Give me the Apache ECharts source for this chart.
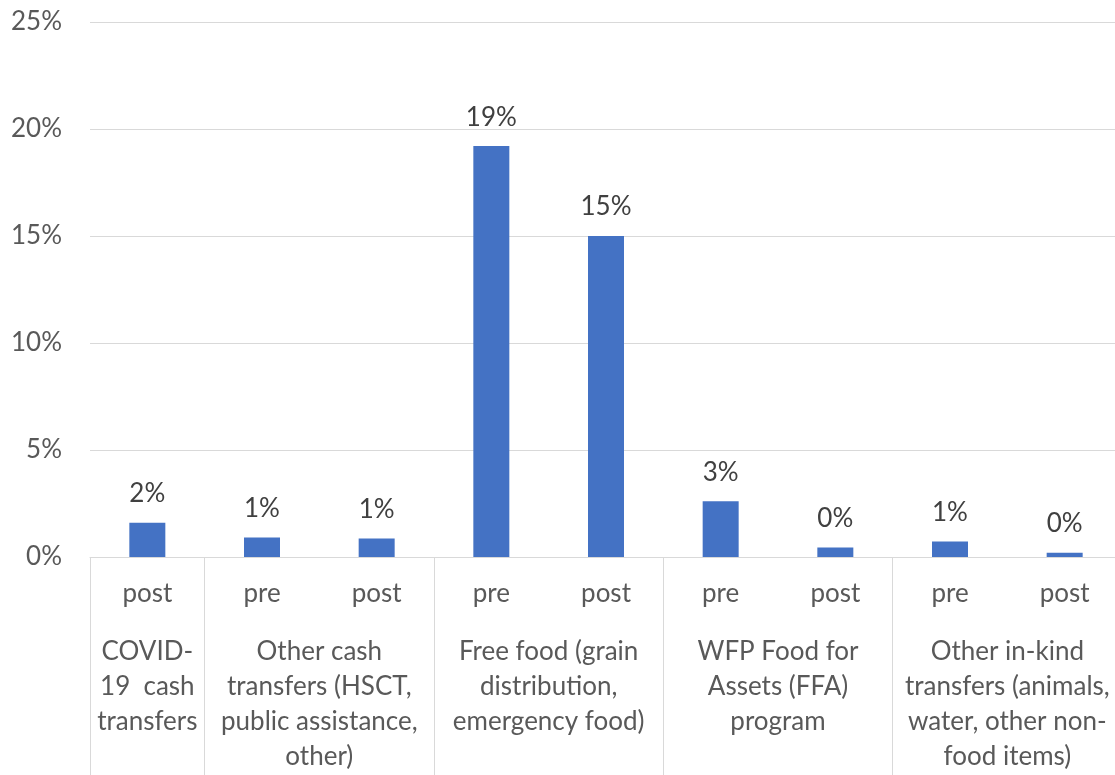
<!DOCTYPE html>
<html>
<head>
<meta charset="utf-8">
<script src="https://cdn.jsdelivr.net/npm/echarts@6/dist/echarts.min.js"></script>
<style>
html, body { margin: 0; padding: 0; overflow: hidden; background: #fff; }
#chart { width: 1125px; height: 775px; }
</style>
</head>
<body>
<div id="chart"></div>
<script>
// bar labels (pre / post) for each of the 9 bars
var periods = ['post', 'pre', 'post', 'pre', 'post', 'pre', 'post', 'pre', 'post'];
// share of households receiving each transfer (%)
var values = [1.6, 0.91, 0.86, 19.2, 15.0, 2.6, 0.44, 0.73, 0.2];
// group labels, placed at the middle of each group
var groupNames = [
  'COVID-\n19  cash\ntransfers',
  'Other cash\ntransfers (HSCT,\npublic assistance,\nother)',
  'Free food (grain\ndistribution,\nemergency food)',
  'WFP Food for\nAssets (FFA)\nprogram',
  'Other in-kind\ntransfers (animals,\nwater, other non-\nfood items)'
];
var groupCenters = [0, 1.5, 3.5, 5.5, 7.5];
// index of the first bar in each group (separator lines)
var groupStarts = [0, 1, 3, 5, 7, 9];
var yTicks = [0, 5, 10, 15, 20, 25];

var font = 'Lato, "Open Sans", sans-serif';
var fsize = 26;
var myChart = echarts.init(document.getElementById('chart'));

var option = {
  animation: false,
  grid: { left: 90, right: 0, top: 22, bottom: 218 },
  xAxis: [
    {
      type: 'category',
      data: periods,
      axisLine: { lineStyle: { color: '#d9d9d9', width: 1 } },
      axisTick: {
        show: true,
        alignWithLabel: false,
        length: 218,
        interval: function (index) { return groupStarts.indexOf(index) >= 0; },
        lineStyle: { color: '#d9d9d9', width: 1 }
      },
      axisLabel: {
        interval: 0,
        margin: 24,
        fontFamily: font,
        fontSize: fsize,
        color: '#595959'
      }
    },
    {
      type: 'value',
      position: 'bottom',
      min: -0.5,
      max: 8.5,
      interval: 0.5,
      axisLine: { show: false },
      axisTick: { show: false },
      splitLine: { show: false },
      axisLabel: {
        margin: 77,
        showMinLabel: true,
        showMaxLabel: true,
        fontFamily: font,
        fontSize: fsize,
        lineHeight: 35,
        color: '#595959',
        align: 'center',
        verticalAlign: 'top',
        formatter: function (v) {
          var i = groupCenters.indexOf(v);
          return i >= 0 ? groupNames[i] : '';
        }
      }
    }
  ],
  yAxis: {
    type: 'value',
    min: yTicks[0],
    max: yTicks[yTicks.length - 1],
    interval: 5,
    axisLine: { show: false },
    axisTick: { show: false },
    splitLine: { lineStyle: { color: '#d9d9d9', width: 1 } },
    axisLabel: {
      margin: 28,
      fontFamily: font,
      fontSize: fsize,
      color: '#595959',
      formatter: '{value}%'
    }
  },
  series: [
    {
      type: 'bar',
      xAxisIndex: 0,
      data: values,
      barWidth: 36,
      itemStyle: { color: '#4472C4' },
      label: {
        show: true,
        position: 'top',
        distance: 16,
        fontFamily: font,
        fontSize: fsize,
        color: '#404040',
        formatter: function (p) { return Math.round(p.value) + '%'; }
      }
    }
  ]
};

myChart.setOption(option);
</script>
</body>
</html>
